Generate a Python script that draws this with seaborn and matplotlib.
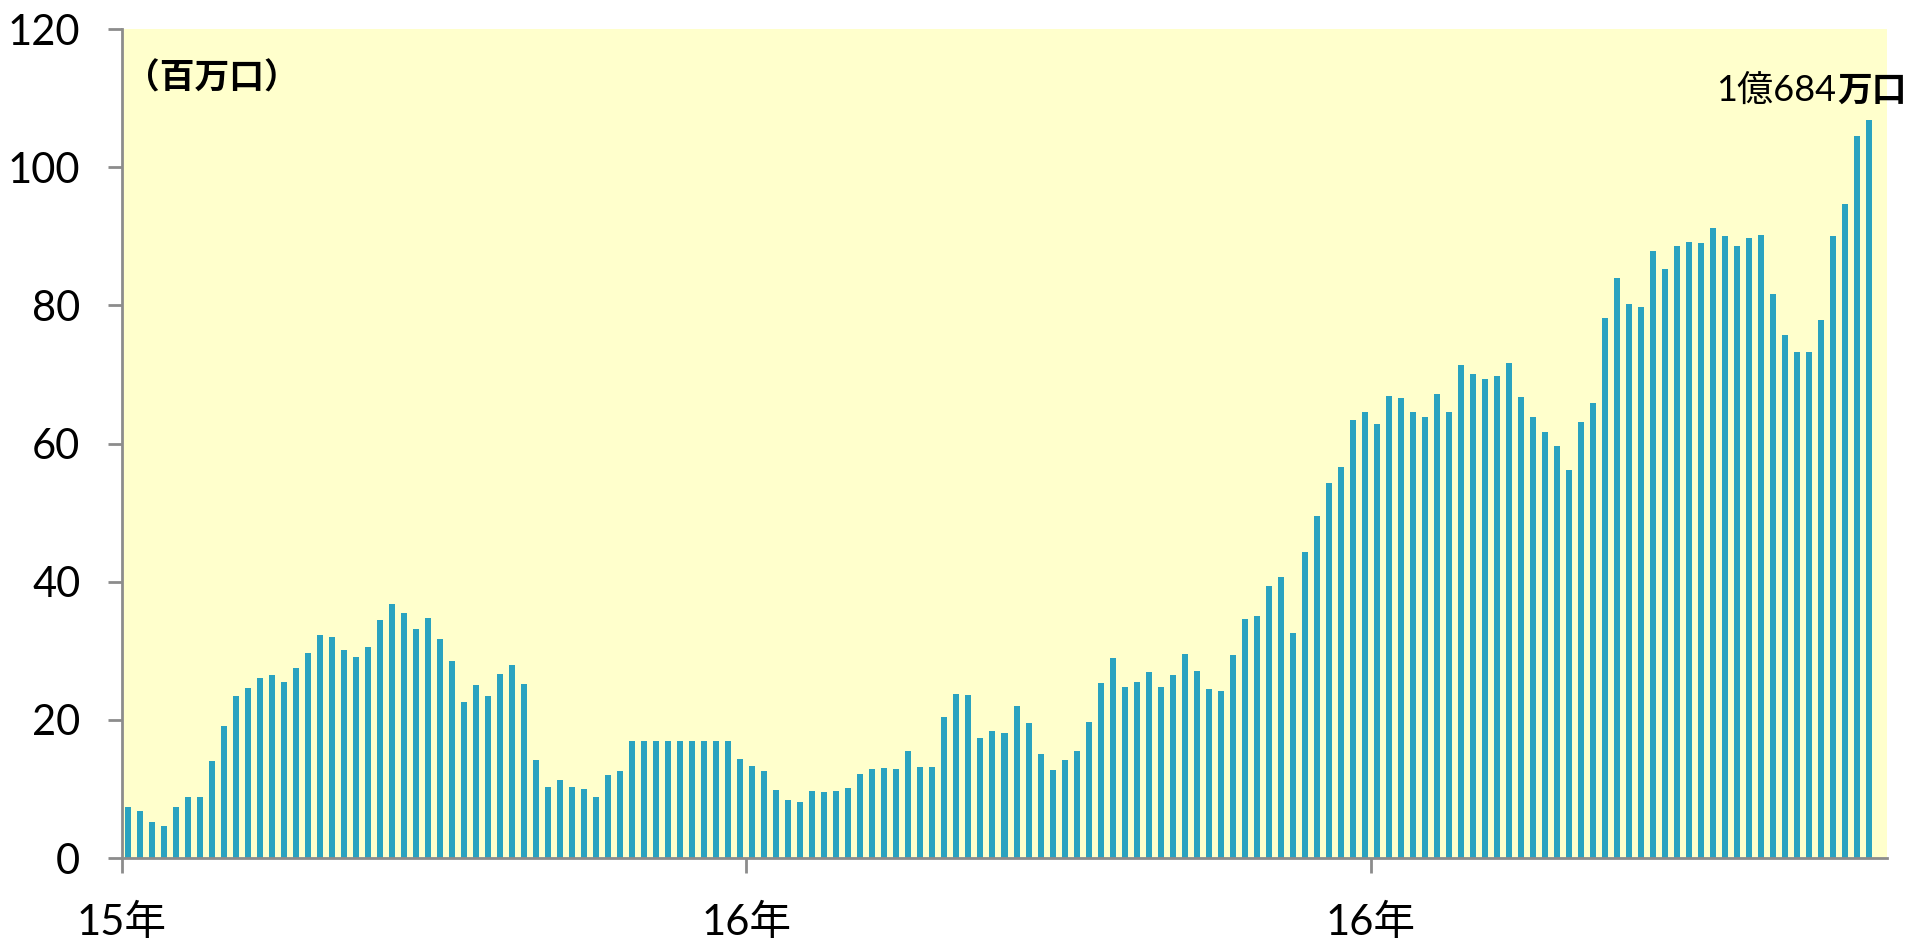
import numpy as np
import pandas as pd
import matplotlib
matplotlib.use("Agg")
import matplotlib.pyplot as plt
import seaborn as sns

# ---- data (weekly, millions of units) ----
year1_values = [7.44, 6.81, 5.27, 4.59, 7.44, 8.89, 8.79, 14.06, 19.13, 23.38,
                24.54, 26.09, 26.52, 25.51, 27.54, 29.61, 32.22, 31.93, 30.05, 29.13,
                30.58, 34.49, 36.71, 35.51, 33.14, 34.73, 31.64, 28.55, 22.61, 25.02,
                23.48, 26.67, 27.92, 25.12, 14.20, 10.34, 11.35, 10.24, 9.95, 8.79,
                12.03, 12.66, 16.91, 16.91, 16.91, 16.91, 16.91, 16.91, 16.91, 16.91,
                16.91, 14.40]
year2_values = [13.38, 12.56, 9.81, 8.41, 8.16, 9.76, 9.57, 9.76, 10.19, 12.22,
                12.95, 13.04, 12.90, 15.51, 13.19, 13.24, 20.43, 23.77, 23.57, 17.39,
                18.36, 18.16, 21.99, 19.55, 15.12, 12.79, 14.13, 15.42, 19.75, 25.27,
                29.00, 24.73, 25.47, 26.97, 24.73, 26.52, 29.55, 27.06, 24.43, 24.23,
                29.45, 34.63, 35.07, 39.35, 40.65, 32.54, 44.33, 49.50, 54.33, 56.67,
                63.43, 64.63]
year3_values = [62.79, 66.9, 66.6, 64.6, 63.8, 67.1, 64.5, 71.4, 70.1, 69.3,
                69.8, 71.6, 66.8, 63.8, 61.6, 59.6, 56.2, 63.1, 65.8, 78.1,
                83.9, 80.2, 79.7, 87.8, 85.2, 88.6, 89.1, 89.0, 91.2, 90.0,
                88.55, 89.7, 90.2, 81.6, 75.65, 73.2, 73.2, 77.9, 90.0, 94.7,
                104.5, 106.84]
year_tick_labels = ["15年", "16年", "16年"]
y_ticks = [0, 20, 40, 60, 80, 100, 120]
unit_label = "（百万口）"
last_label_num = "1億684"
last_label_unit = "万口"

values = year1_values + year2_values + year3_values
n_slots = len(values) + 1  # one empty week slot at the right end
df = pd.DataFrame({"week": list(range(len(values))), "value": values})

sns.set_theme(style="white")
fam = ["Lato", "Noto Sans CJK JP", "DejaVu Sans"]
plt.rcParams["font.family"] = fam
plt.rcParams["text.color"] = "black"
plt.rcParams["xtick.labelcolor"] = "black"
plt.rcParams["ytick.labelcolor"] = "black"

fig = plt.figure(figsize=(19.1, 9.4), dpi=100)
ax = fig.add_axes([122 / 1910, 1 - 858 / 940, (1887 - 122) / 1910, (858 - 29) / 940])
ax.set_facecolor("#FFFFCC")

sns.barplot(data=df, x="week", y="value", color="#2AA3C0", saturation=1,
            width=0.5, linewidth=0, ax=ax, native_scale=False)

ax.set_xlim(-0.5, n_slots - 0.5)
ax.set_ylim(0, 120)
ax.set_xlabel("")
ax.set_ylabel("")

boundaries = [-0.5, len(year1_values) - 0.5, len(year1_values) + len(year2_values) - 0.5]
ax.set_xticks(boundaries)
ax.set_xticklabels(year_tick_labels, fontsize=30, family=fam, color="black")
ax.set_yticks(y_ticks)
ax.set_yticklabels([str(v) for v in y_ticks], fontsize=30, family=fam, color="black")

for side in ["top", "right"]:
    ax.spines[side].set_visible(False)
for side in ["left", "bottom"]:
    ax.spines[side].set_color("#8C8C8C")
    ax.spines[side].set_linewidth(2)

ax.tick_params(axis="y", which="major", direction="out", length=10, width=2,
               color="#8C8C8C", pad=20, left=True)
ax.tick_params(axis="x", which="major", direction="out", length=11, width=2,
               color="#8C8C8C", pad=22, bottom=True)

ax.text(7.0, 112.9, unit_label, fontsize=25, fontweight="bold", ha="center",
        va="center", color="black", family=["Noto Sans CJK JP", "DejaVu Sans"])
fig.text(1836 / 1910, 1 - 90 / 940, last_label_num, fontsize=26, ha="right",
         va="center", color="black", family=fam)
fig.text(1837 / 1910, 1 - 90 / 940, last_label_unit, fontsize=25, ha="left",
         va="center", fontweight="bold", color="black",
         family=["Noto Sans CJK JP", "DejaVu Sans"])

fig.savefig("out.png", dpi=100)
